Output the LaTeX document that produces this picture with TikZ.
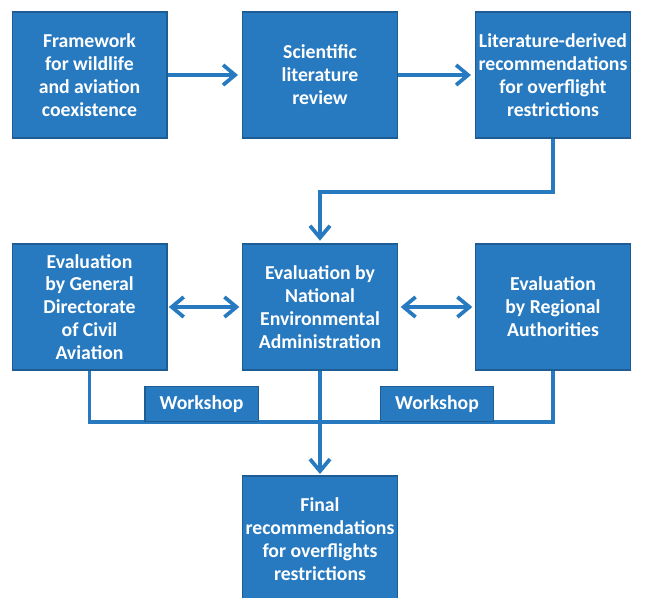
\documentclass[tikz,border=0pt]{standalone}
\usepackage{fontspec}
\setmainfont{Carlito}
\usetikzlibrary{arrows.meta}
\definecolor{boxblue}{RGB}{40,122,192}
\definecolor{edgeblue}{RGB}{30,92,148}
\begin{document}
\begin{tikzpicture}[x=0.75pt,y=-0.75pt,>={Straight Barb[length=9pt,width=15pt]},
  box/.style={draw=edgeblue,line width=1pt,fill=boxblue,text=white,
    font=\bfseries\fontsize{14.8}{17.2}\selectfont,align=center,
    minimum width=116pt,minimum height=94.5pt,inner sep=0pt},
  shop/.style={box,minimum width=85pt,minimum height=26pt},
  conn/.style={draw=boxblue,line width=2.8pt}]

\useasboundingbox (0,0) rectangle (647,597);

% top row
\node[box] (fw)  at (89.5,75) {Framework\\for wildlife\\and aviation\\coexistence};
\node[box] (rev) at (320,75)  {Scientific\\literature\\review};
\node[box] (lit) at (553,75)  {Literature-derived\\recommendations\\for overflight\\restrictions};

% middle row
\node[box] (dgac) at (89.5,307) {Evaluation\\by General\\Directorate\\of Civil\\Aviation};
\node[box] (nea)  at (320,307)  {Evaluation by\\National\\Environmental\\Administration};
\node[box] (ra)   at (553,307)  {Evaluation\\by Regional\\Authorities};

% final
\node[box] (fin) at (320,539) {Final\\recommendations\\for overflights\\restrictions};

\coordinate (bend) at (553,192);
\coordinate (join) at (320,422);

\draw[conn,->,shorten >=3pt] (fw) -- (rev);
\draw[conn,->,shorten >=3pt] (rev) -- (lit);
\draw[conn,->,shorten >=2pt] (lit.south) -- (bend) -| (nea.north);

\draw[conn,<->,shorten <=1pt,shorten >=2pt] (dgac) -- (nea);
\draw[conn,<->,shorten <=2pt,shorten >=2pt] (nea) -- (ra);

\draw[conn] (dgac.south) |- (join) -| (ra.south);
\draw[conn,->,shorten >=1pt] (nea.south) -- (fin.north);

\foreach \n/\x in {wsl/201.5,wsr/437}
{
    \node[shop,anchor=south] (\n) at (\x,422) {Workshop};
}
\end{tikzpicture}
\end{document}
